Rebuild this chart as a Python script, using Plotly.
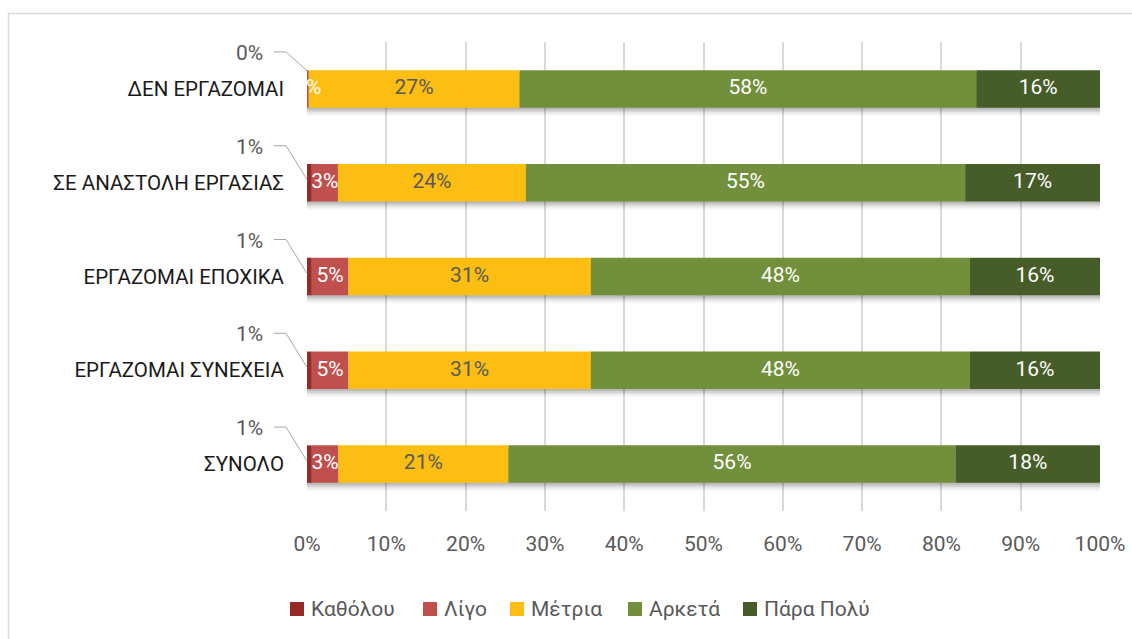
import numpy as np
import plotly.graph_objects as go

# Categories listed bottom-to-top (Plotly draws the first category at the bottom)
categories = ["ΣΥΝΟΛΟ", "ΕΡΓΑΖΟΜΑΙ ΣΥΝΕΧΕΙΑ", "ΕΡΓΑΖΟΜΑΙ ΕΠΟΧΙΚΑ",
              "ΣΕ ΑΝΑΣΤΟΛΗ ΕΡΓΑΣΙΑΣ", "ΔΕΝ ΕΡΓΑΖΟΜΑΙ"]

# Shares per answer (%)
katholou = [0.6, 0.6, 0.6, 0.6, 0.0]
ligo = [3.35, 4.6, 4.6, 3.3, 0.2]
metria = [21.45, 30.6, 30.6, 23.7, 26.6]
arketa = [56.4, 47.8, 47.8, 55.4, 57.6]
para_poly = [18.2, 16.4, 16.4, 17.0, 15.6]

series_names = ["Καθόλου", "Λίγο", "Μέτρια", "Αρκετά", "Πάρα Πολύ"]
series_values = [katholou, ligo, metria, arketa, para_poly]
series_colors = ["#962A24", "#C0504D", "#FCBE13", "#728F3B", "#465C29"]
label_colors = [None, "#FFFFFF", "#595959", "#FFFFFF", "#FFFFFF"]

x_ticks = list(range(0, 101, 10))

FONT = "Roboto"
W, H = 1132, 639
ML, MR, MT, MB = 307, 32, 42, 128
PW, PH = W - ML - MR, H - MT - MB
n = len(categories)
band_px = PH / n
bar_w = 0.4

# left edge (px) of each legend swatch
legend_x_px = [290, 423, 510, 628, 743]
legend_y_px = 609
swatch = 14


def px_to_paper_x(px):
    return (px - ML) / PW


def px_to_paper_y(py):
    return (H - MB - py) / PH


fig = go.Figure()

# soft drop shadow under each bar
totals = np.sum(np.array(series_values), axis=0)
for dy, alpha in [(8, 0.04), (6, 0.06), (4, 0.09), (2, 0.11)]:
    fig.add_bar(
        y=categories, x=totals, base=0, orientation="h",
        width=bar_w, offset=-bar_w / 2 - dy / band_px,
        marker=dict(color=f"rgba(0,0,0,{alpha})", line_width=0),
        showlegend=False, hoverinfo="skip",
    )

cum = np.zeros(n)
label_traces = []
for name, vals, color, lcol in zip(series_names, series_values, series_colors, label_colors):
    vals = np.array(vals, dtype=float)
    fig.add_bar(
        y=categories, x=vals, base=cum.copy(), orientation="h",
        width=bar_w, offset=-bar_w / 2, name=name,
        marker=dict(color=color, line_width=0), showlegend=False,
    )
    if lcol is not None:
        label_traces.append(dict(
            x=cum + vals / 2, y=categories, mode="text",
            text=[f"{round(v)}%" for v in vals],
            textfont=dict(family=FONT, size=21, color=lcol),
            cliponaxis=True, showlegend=False, hoverinfo="skip",
        ))
    cum = cum + vals

for tr in label_traces:
    fig.add_scatter(**tr)

annotations = []
shapes = []

# outside labels with leader lines for the first (tiny) segment
for i, v in enumerate(katholou):
    yc = (i + 0.5) / n
    annotations.append(dict(
        xref="paper", yref="paper", x=0, y=yc, xanchor="right", yanchor="middle",
        xshift=-42, yshift=36, text=f"{round(v)}%", showarrow=False,
        font=dict(family=FONT, size=21, color="#595959"),
    ))
    end_y = 18 if v == 0 else 3
    shapes.append(dict(
        type="path", xref="paper", yref="paper",
        xsizemode="pixel", ysizemode="pixel", xanchor=0, yanchor=yc,
        path=f"M -33 37 L -21 37 L 0 {end_y}",
        line=dict(color="#A6A6A6", width=1),
    ))

# legend row
for name, color, lx in zip(series_names, series_colors, legend_x_px):
    shapes.append(dict(
        type="rect", xref="paper", yref="paper",
        x0=px_to_paper_x(lx), x1=px_to_paper_x(lx + swatch),
        y0=px_to_paper_y(legend_y_px + swatch / 2),
        y1=px_to_paper_y(legend_y_px - swatch / 2),
        fillcolor=color, line_width=0,
    ))
    annotations.append(dict(
        xref="paper", yref="paper", x=px_to_paper_x(lx + swatch + 5),
        y=px_to_paper_y(legend_y_px), xanchor="left", yanchor="middle",
        text=name, showarrow=False,
        font=dict(family=FONT, size=21, color="#595959"),
    ))

# chart frame
shapes.append(dict(
    type="rect", xref="paper", yref="paper", layer="below",
    x0=px_to_paper_x(8.5), x1=px_to_paper_x(1150),
    y0=px_to_paper_y(680), y1=px_to_paper_y(13.5),
    line=dict(color="#D9D9D9", width=1.5), fillcolor="rgba(0,0,0,0)",
))

fig.update_layout(
    width=W, height=H,
    margin=dict(l=ML, r=MR, t=MT, b=MB, pad=0, autoexpand=False),
    paper_bgcolor="white", plot_bgcolor="white",
    barmode="overlay", showlegend=False,
    font=dict(family=FONT, size=21, color="#595959"),
    xaxis=dict(
        range=[0, 100], tickvals=x_ticks, ticktext=[f"{t}%" for t in x_ticks],
        showgrid=True, gridcolor="#D9D9D9", gridwidth=1.5,
        zeroline=False, showline=False, ticks="", automargin=False,
        tickfont=dict(family=FONT, size=21, color="#595959"),
        ticklabelstandoff=18,
    ),
    yaxis=dict(
        type="category", range=[-0.5, n - 0.5], showgrid=False, zeroline=False,
        showline=False, ticks="", automargin=False,
        tickfont=dict(family=FONT, size=20.5, color="#1A1A1A"),
        ticklabelstandoff=22,
    ),
    annotations=annotations,
    shapes=shapes,
)

fig.write_html("out.html")
